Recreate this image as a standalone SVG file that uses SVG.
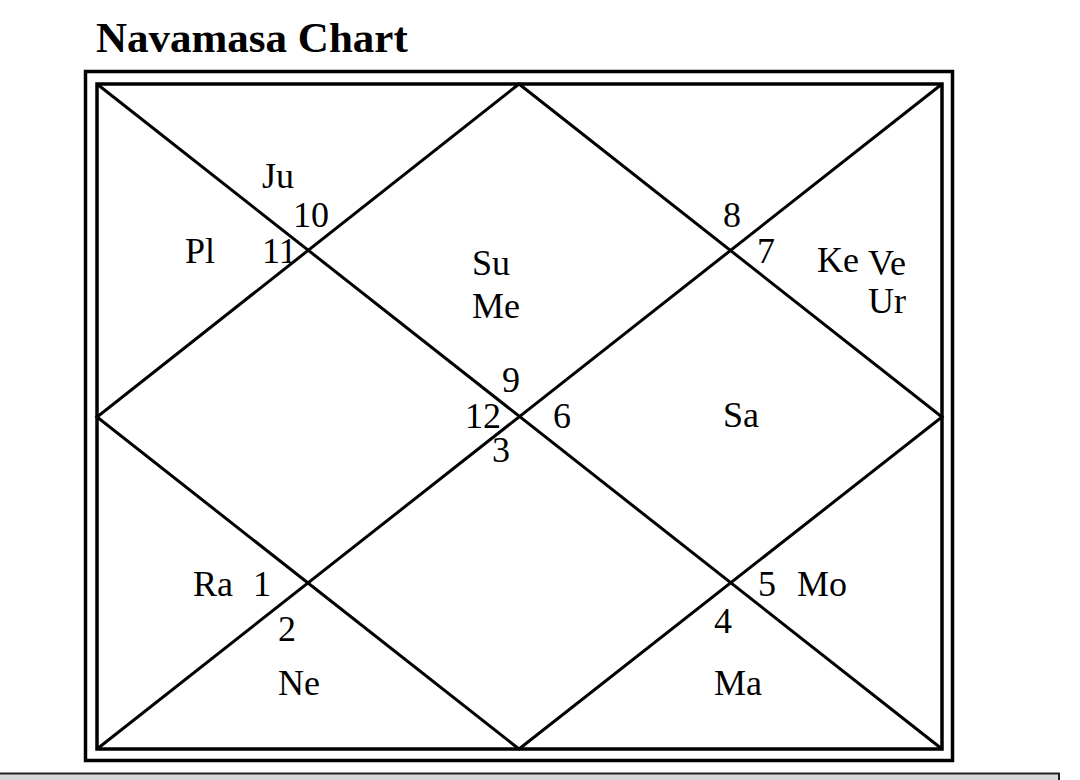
<svg xmlns="http://www.w3.org/2000/svg" width="1080" height="780" viewBox="0 0 1080 780">
<style>
text{font-family:"Liberation Serif","Times New Roman",serif;font-size:36px;fill:#000}
.title{font-size:43px;font-weight:bold}
.frame{fill:none;stroke:#000;stroke-width:3.5}
.ln{stroke:#000;stroke-width:3;fill:none}
</style>
<rect width="1080" height="780" fill="#fff"/>
<text class="title" x="96" y="52">Navamasa Chart</text>
<g id="frame">
<rect class="frame" x="85.5" y="71.5" width="867" height="689"/>
<rect class="frame" x="97" y="84" width="845" height="665"/>
</g>
<g id="connectors">
<line class="ln" x1="97" y1="84" x2="942" y2="749"/>
<line class="ln" x1="942" y1="84" x2="97" y2="749"/>
<polygon class="ln" points="519,84 942,417 519,749 97,417"/>
</g>
<g id="house1"><text x="193" y="596">Ra</text><text x="253" y="596">1</text></g>
<g id="house2"><text x="278" y="641">2</text><text x="278" y="695">Ne</text></g>
<g id="house3"><text x="492" y="462">3</text></g>
<g id="house4"><text x="714" y="633">4</text><text x="714" y="695">Ma</text></g>
<g id="house5"><text x="758" y="596">5</text><text x="797" y="596">Mo</text></g>
<g id="house6"><text x="553" y="428">6</text><text x="723" y="427">Sa</text></g>
<g id="house7"><text x="757" y="263">7</text><text x="817" y="272">Ke</text><text x="868" y="275">Ve</text><text x="868" y="313">Ur</text></g>
<g id="house8"><text x="723" y="227">8</text></g>
<g id="house9"><text x="502" y="392">9</text><text x="472" y="275">Su</text><text x="472" y="318">Me</text></g>
<g id="house10"><text x="293" y="227">10</text><text x="262" y="188">Ju</text></g>
<g id="house11"><text x="262" y="263">11</text><text x="185" y="263">Pl</text></g>
<g id="house12"><text x="465" y="428">12</text></g>
<rect x="-3" y="773.5" width="1062" height="20" fill="#d8d8d8" stroke="#222" stroke-width="2"/>
</svg>
